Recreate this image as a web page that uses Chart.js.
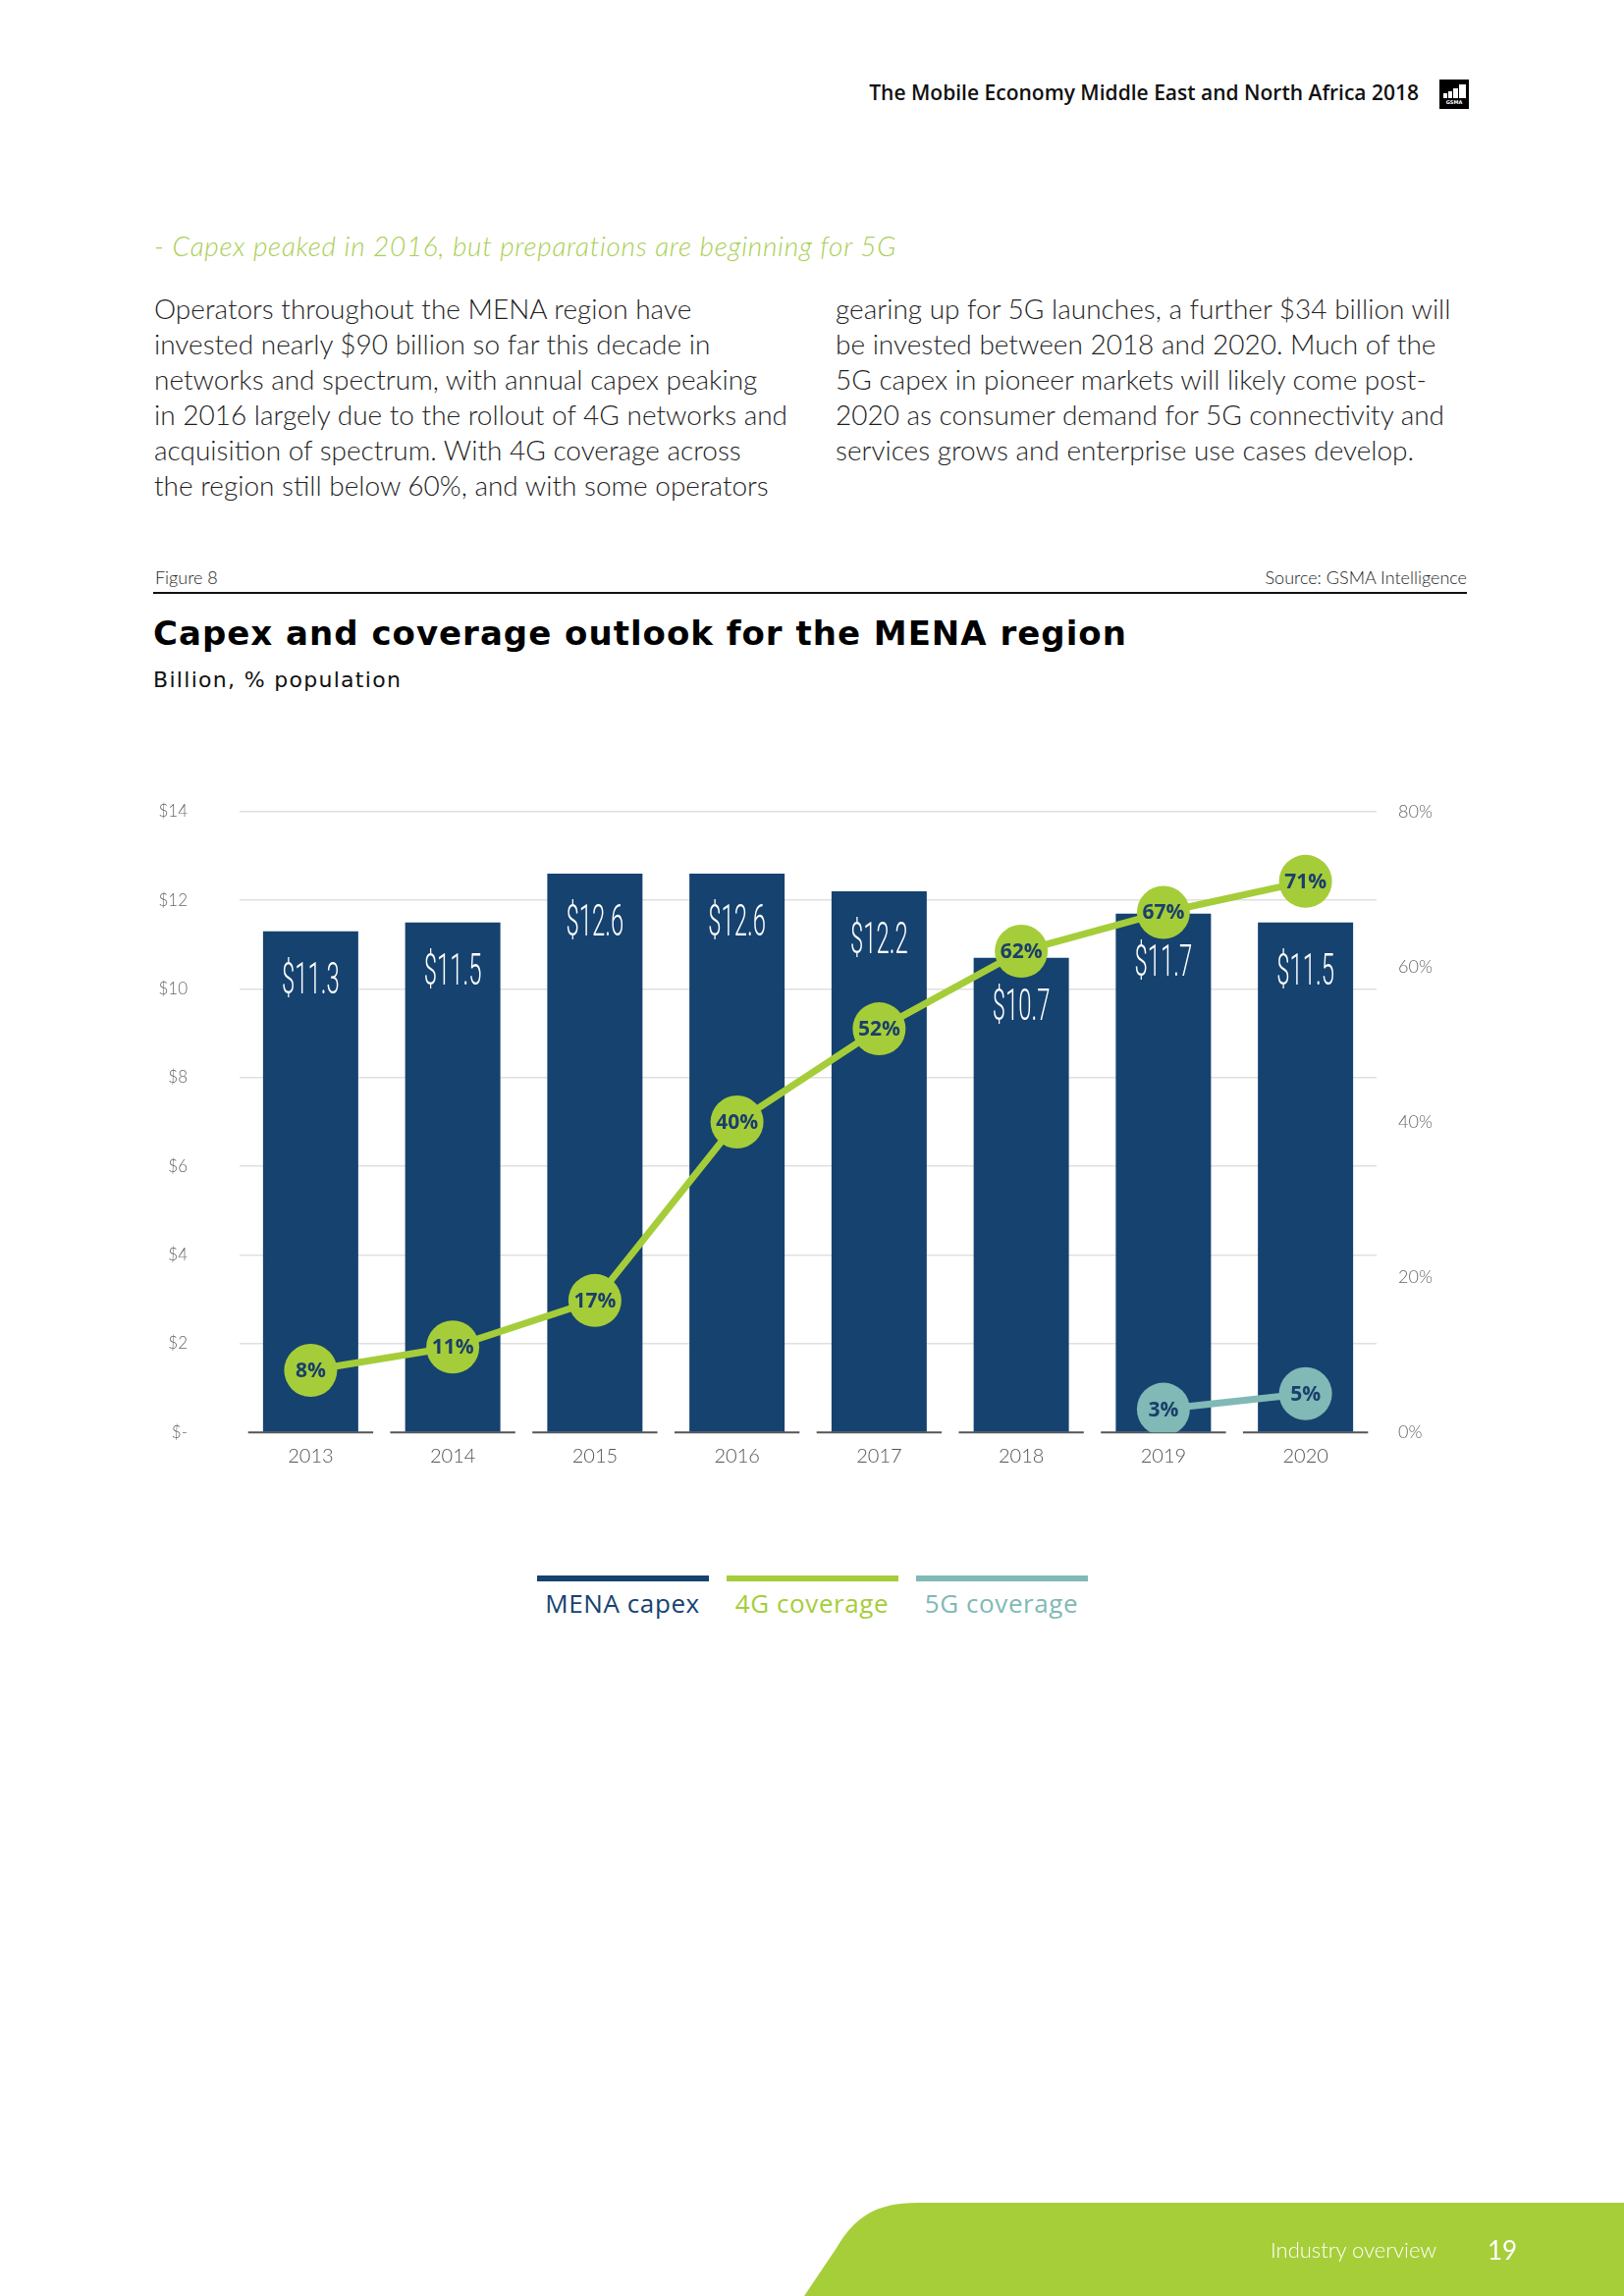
<!DOCTYPE html>
<html>
<head>
<meta charset="utf-8">
<script src="https://cdn.jsdelivr.net/npm/chart.js@4.4.1/dist/chart.umd.min.js"></script>
<style>
  html, body { margin: 0; padding: 0; background: #fff; }
  body { width: 1654px; height: 2339px; position: relative; overflow: hidden; font-family: Lato, sans-serif; color: #222; }
  .abs { position: absolute; white-space: nowrap; line-height: 1; }
  .header { top: 84px; right: 209px; font-family: "Open Sans", sans-serif; font-weight: 600; font-size: 21px; color: #111; }
  .kicker { top: 236px; left: 157px; font-weight: 300; font-style: italic; font-size: 28px; letter-spacing: 0.7px; color: #a9cf55; }
  .body { top: 296px; font-weight: 300; font-size: 28px; line-height: 36px; color: #1f1f1f; }
  .fig { top: 579px; font-weight: 300; font-size: 18px; color: #222; }
  .rule { position: absolute; top: 603px; left: 156px; width: 1338px; height: 2px; background: #111; }
  .title { top: 628px; left: 156px; font-family: "DejaVu Sans", sans-serif; font-weight: 700; font-size: 34px; letter-spacing: 1px; color: #000; }
  .sub { top: 682px; left: 156px; font-family: "DejaVu Sans", sans-serif; font-size: 22px; letter-spacing: 1.3px; color: #111; }
  #chartBox { position: absolute; left: 150px; top: 790px; width: 1350px; height: 740px; }
  #legend { position: absolute; top: 1605px; left: 0; width: 1654px; display: flex; justify-content: center; gap: 18px; }
  .item { width: 175px; text-align: center; }
  .item .bar { height: 6px; }
  .item .txt { margin-top: 9px; font-family: "Open Sans", sans-serif; font-weight: 500; font-size: 26px; letter-spacing: 0.6px; line-height: 1; white-space: nowrap; }
  .foot { color: #fff; }
</style>
</head>
<body>

<div class="abs header">The Mobile Economy Middle East and North Africa 2018</div>
<svg style="position:absolute;left:1466px;top:81px" width="30" height="30" viewBox="0 0 30 30">
  <rect width="30" height="30" fill="#000"/>
  <rect x="4" y="14" width="4" height="5" fill="#fff"/>
  <rect x="9" y="12" width="4" height="7" fill="#fff"/>
  <rect x="14" y="9" width="5" height="10" fill="#fff"/>
  <rect x="20" y="5" width="7" height="14" fill="#fff"/>
  <text x="15" y="25" font-family="DejaVu Sans" font-weight="700" font-size="5" fill="#fff" text-anchor="middle">GSMA</text>
</svg>

<div class="abs kicker">- Capex peaked in 2016, but preparations are beginning for 5G</div>

<div class="abs body" style="left:157px">Operators throughout the MENA region have<br>invested nearly $90 billion so far this decade in<br>networks and spectrum, with annual capex peaking<br>in 2016 largely due to the rollout of 4G networks and<br>acquisition of spectrum. With 4G coverage across<br>the region still below 60%, and with some operators</div>
<div class="abs body" style="left:851px">gearing up for 5G launches, a further $34 billion will<br>be invested between 2018 and 2020. Much of the<br>5G capex in pioneer markets will likely come post-<br>2020 as consumer demand for 5G connectivity and<br>services grows and enterprise use cases develop.</div>

<div class="abs fig" style="left:158px">Figure 8</div>
<div class="abs fig" style="right:160px">Source: GSMA Intelligence</div>
<div class="rule"></div>
<div class="abs title">Capex and coverage outlook for the MENA region</div>
<div class="abs sub">Billion, % population</div>

<div id="chartBox"><canvas id="chart"></canvas></div>
<div id="legend"></div>

<svg style="position:absolute;left:0;top:0" width="1654" height="2339">
  <path d="M819 2339 L852 2290 C870 2260 890 2244 935 2244 L1654 2244 L1654 2339 Z" fill="#a6ce39"/>
</svg>
<div class="abs foot" style="left:1294px;top:2281px;font-weight:300;font-size:22px">Industry overview</div>
<div class="abs foot" style="left:1515px;top:2279px;font-weight:400;font-size:26px">19</div>

<script>
const years = ["2013", "2014", "2015", "2016", "2017", "2018", "2019", "2020"];
const capex = [11.3, 11.5, 12.6, 12.6, 12.2, 10.7, 11.7, 11.5];
const coverage4g = [8, 11, 17, 40, 52, 62, 67, 71];
const coverage5g = [null, null, null, null, null, null, 3, 5];
const capexTicks = [0, 2, 4, 6, 8, 10, 12, 14];
const coverageTicks = [0, 20, 40, 60, 80];

const NAVY = "#16426f";
const GREEN = "#a5cd39";
const TEAL = "#80b9b6";

// white condensed value labels inside the bars
const barLabels = {
  id: "barLabels",
  afterDatasetDraw(chart, args) {
    if (chart.data.datasets[args.index].type !== "bar") return;
    const c = chart.ctx;
    args.meta.data.forEach((bar, i) => {
      c.save();
      c.translate(bar.x, bar.y + 52);
      c.scale(0.53, 1);
      c.font = "300 45px Roboto";
      c.fillStyle = "#fff";
      c.textAlign = "center";
      c.textBaseline = "middle";
      c.fillText("$" + capex[i].toFixed(1), 0, 0);
      c.restore();
    });
  }
};

// percentages inside the circles
const pointLabels = {
  id: "pointLabels",
  afterDatasetsDraw(chart) {
    const c = chart.ctx;
    chart.data.datasets.forEach((ds, di) => {
      if (ds.type !== "line") return;
      chart.getDatasetMeta(di).data.forEach((pt, i) => {
        if (ds.data[i] == null) return;
        c.save();
        c.font = "700 21px 'Open Sans'";
        c.fillStyle = "#1a3f6b";
        c.textAlign = "center";
        c.textBaseline = "middle";
        c.fillText(ds.data[i] + "%", pt.x, pt.y + 1);
        c.restore();
      });
    });
  }
};

// short axis segments under each year
const baseSegments = {
  id: "baseSegments",
  beforeDatasetsDraw(chart) {
    const c = chart.ctx;
    const x = chart.scales.x;
    const y0 = chart.scales.y.getPixelForValue(0);
    const half = (x.width / years.length) * 0.44;
    c.save();
    c.strokeStyle = "#555";
    c.lineWidth = 2;
    years.forEach((yr, i) => {
      const cx = x.getPixelForValue(i);
      c.beginPath();
      c.moveTo(cx - half, y0);
      c.lineTo(cx + half, y0);
      c.stroke();
    });
    c.restore();
  }
};

const chart = new Chart(document.getElementById("chart"), {
  data: {
    labels: years,
    datasets: [
      {
        type: "bar",
        label: "MENA capex",
        data: capex,
        yAxisID: "y",
        backgroundColor: NAVY,
        categoryPercentage: 1,
        barPercentage: 0.67,
        order: 3
      },
      {
        type: "line",
        label: "4G coverage",
        data: coverage4g,
        yAxisID: "yPct",
        borderColor: GREEN,
        backgroundColor: GREEN,
        borderWidth: 7,
        pointRadius: 27,
        pointHoverRadius: 27,
        pointBorderWidth: 0,
        order: 1
      },
      {
        type: "line",
        label: "5G coverage",
        data: coverage5g,
        yAxisID: "yPct",
        borderColor: TEAL,
        backgroundColor: TEAL,
        borderWidth: 7,
        pointRadius: 27,
        pointHoverRadius: 27,
        pointBorderWidth: 0,
        order: 2
      }
    ]
  },
  options: {
    responsive: true,
    maintainAspectRatio: false,
    devicePixelRatio: 1,
    animation: false,
    layout: { autoPadding: false, padding: { top: 36.7, bottom: 0, left: 0, right: 0 } },
    plugins: { legend: { display: false }, tooltip: { enabled: false } },
    scales: {
      x: {
        grid: { display: false },
        border: { display: false },
        ticks: { color: "#555", font: { family: "Lato", weight: 300, size: 20 }, padding: 4 },
        afterFit: (s) => { s.height = 70.7; }
      },
      y: {
        position: "left",
        min: 0,
        max: 14,
        afterBuildTicks: (s) => { s.ticks = capexTicks.map((v) => ({ value: v })); },
        ticks: {
          color: "#666",
          font: { family: "Lato", weight: 300, size: 17 },
          padding: 53,
          callback: (v) => (v === 0 ? "$-" : "$" + v)
        },
        grid: {
          drawTicks: false,
          lineWidth: 1.5,
          color: (ctx) => (ctx.tick && ctx.tick.value === 0 ? "rgba(0,0,0,0)" : "#e0e0e0")
        },
        border: { display: false },
        // tick padding would otherwise push the plot area down
        afterFit: (s) => { s.width = 94; s.paddingTop = 10; s.paddingBottom = 10; }
      },
      yPct: {
        position: "right",
        min: 0,
        max: 80,
        afterBuildTicks: (s) => { s.ticks = coverageTicks.map((v) => ({ value: v })); },
        ticks: {
          color: "#666",
          font: { family: "Lato", weight: 300, size: 18 },
          padding: 22,
          callback: (v) => v + "%"
        },
        grid: { display: false, drawTicks: false },
        border: { display: false },
        afterFit: (s) => { s.width = 98; s.paddingTop = 10; s.paddingBottom = 10; }
      }
    }
  },
  plugins: [baseSegments, barLabels, pointLabels]
});

// legend: coloured rule over each series name
const legend = document.getElementById("legend");
chart.data.datasets.forEach((ds) => {
  const item = document.createElement("div");
  item.className = "item";
  item.innerHTML = `<div class="bar" style="background:${ds.backgroundColor}"></div>` +
    `<div class="txt" style="color:${ds.backgroundColor}">${ds.label}</div>`;
  legend.append(item);
});
</script>
</body>
</html>
